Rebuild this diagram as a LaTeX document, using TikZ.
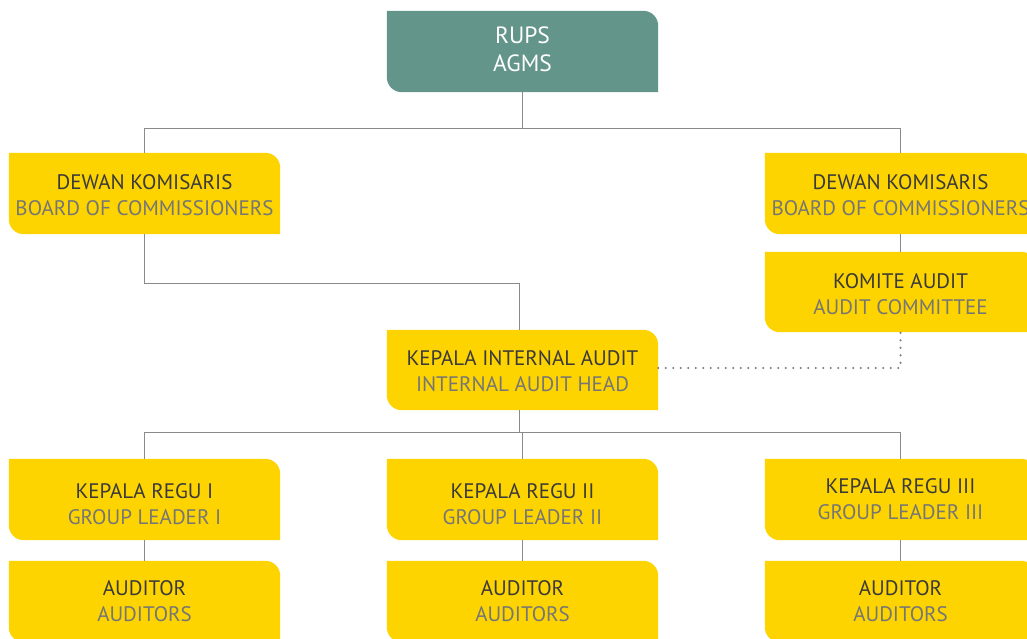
\documentclass[tikz,border=0pt]{standalone}
\usepackage{fontspec}
\setmainfont{PT Sans}
\usetikzlibrary{backgrounds}
\definecolor{boxyellow}{HTML}{FDD300}
\definecolor{boxteal}{HTML}{64958A}
\definecolor{txtdark}{HTML}{3A3A3A}
\definecolor{txtlight}{HTML}{767676}
\definecolor{linegray}{HTML}{8A8A8A}
\tikzset{
  unit/.style={minimum width=271pt, minimum height=81pt, inner sep=0pt,
    align=center, font=\fontsize{21}{26}\selectfont, text=txtdark},
  conn/.style={draw=linegray, line width=1.1pt},
  dotconn/.style={draw=linegray!90!black, line width=2.4pt, line cap=round,
    dash pattern=on 0pt off 7.5pt},
}
% two-line label: local name above, English name below, moved by #1
% (zero height and depth, so the box itself stays put)
\newcommand{\twoline}[3][0pt]{\raisebox{#1}[0pt][0pt]{\begin{tabular}{@{}c@{}}#2\\\textcolor{txtlight}{#3}\end{tabular}}}
\begin{document}
\begin{tikzpicture}[x=1pt,y=1pt]
\useasboundingbox (0,0) rectangle (1027,-639);
% units of the organisation
\node[unit, text=white, font=\fontsize{23.5}{28}\selectfont] (rups) at (522.5,-51.5)
  {\raisebox{-7pt}[0pt][0pt]{\begin{tabular}{@{}c@{}}RUPS\\AGMS\end{tabular}}};
\node[unit] (dk1) at (144.5,-193.5) {\twoline[-8.5pt]{DEWAN KOMISARIS}{BOARD OF COMMISSIONERS}};
\node[unit] (dk2) at (900.5,-193.5) {\twoline[-8.5pt]{DEWAN KOMISARIS}{BOARD OF COMMISSIONERS}};
\node[unit, minimum height=80pt] (ka) at (900.5,-292) {\twoline[-9pt]{KOMITE AUDIT}{AUDIT COMMITTEE}};
\node[unit, minimum height=80pt] (kia) at (522.5,-370) {\twoline[-8.5pt]{KEPALA INTERNAL AUDIT}{INTERNAL AUDIT HEAD}};
\node[unit] (gl1) at (144.5,-499.5) {\twoline[-11.5pt]{KEPALA REGU I}{GROUP LEADER I}};
\node[unit] (gl2) at (522.5,-499.5) {\twoline[-11.5pt]{KEPALA REGU II}{GROUP LEADER II}};
\node[unit] (gl3) at (900.5,-499.5) {\twoline[-7pt]{KEPALA REGU III}{GROUP LEADER III}};
\node[unit] (au1) at (144.5,-601.5) {\twoline[-7pt]{AUDITOR}{AUDITORS}};
\node[unit] (au2) at (522.5,-601.5) {\twoline[-7pt]{AUDITOR}{AUDITORS}};
\node[unit] (au3) at (900.5,-601.5) {\twoline[-7pt]{AUDITOR}{AUDITORS}};
% box shapes: rounded top-right and bottom-left corners
\begin{scope}[on background layer]
  \fill[boxteal] (rups.north west) -- ([xshift=-15pt]rups.north east)
    arc[start angle=90,end angle=0,radius=15pt] -- (rups.south east)
    -- ([xshift=15pt]rups.south west) arc[start angle=270,end angle=180,radius=15pt] -- cycle;
  \foreach \n in {dk1,dk2,ka,kia,gl1,gl2,gl3,au1,au2,au3}{
    \fill[boxyellow] (\n.north west) -- ([xshift=-15pt]\n.north east)
      arc[start angle=90,end angle=0,radius=15pt] -- (\n.south east)
      -- ([xshift=15pt]\n.south west) arc[start angle=270,end angle=180,radius=15pt] -- cycle;
  }
  % connectors
  \coordinate (top) at ([yshift=-36pt]rups.south);
  \draw[conn] (rups.south) -- (top) -| (dk1.north);
  \draw[conn] (top) -| (dk2.north);
  \draw[conn] (dk2.south) -- (ka.north);
  \coordinate (kiatop) at ([xshift=-3pt]kia.north);
  \coordinate (kiabot) at ([xshift=-3pt]kia.south);
  \coordinate (mid) at ([yshift=46pt]kiatop);
  \draw[conn] (dk1.south) |- (mid) -- (kiatop);
  \draw[dotconn] ([yshift=2pt]kia.east) -| (ka.south);
  \coordinate (low) at ([yshift=-22pt]kiabot);
  \draw[conn] (kiabot) -- (low) -| (gl1.north);
  \draw[conn] (low) -| (gl3.north);
  \draw[conn] (low) -| (gl2.north);
  \draw[conn] (gl1.south) -- (au1.north);
  \draw[conn] (gl2.south) -- (au2.north);
  \draw[conn] (gl3.south) -- (au3.north);
\end{scope}
\end{tikzpicture}
\end{document}
